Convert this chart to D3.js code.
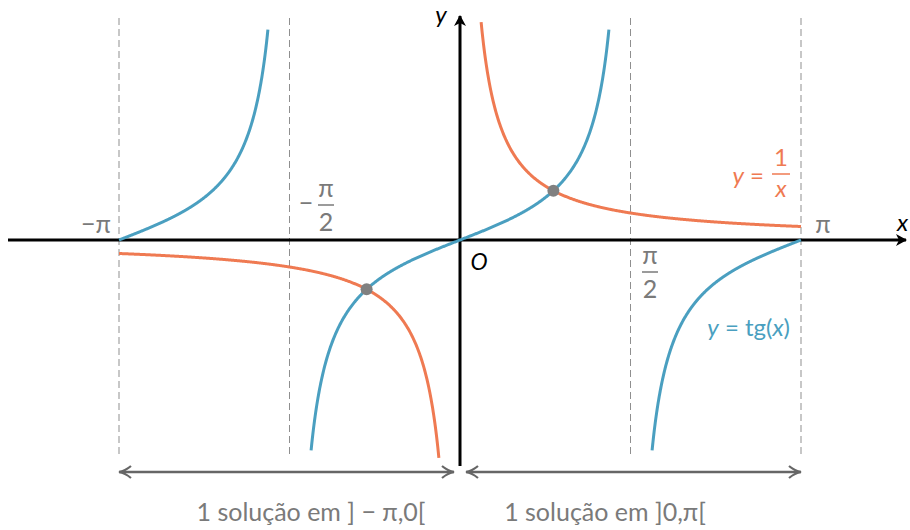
<!DOCTYPE html>
<html><head><meta charset="utf-8">
<script src="https://cdn.jsdelivr.net/npm/d3@7"></script>
<style>body{margin:0;background:#fff}svg{display:block;font-family:Lato,"Open Sans",sans-serif}</style>
</head><body><svg id="c" width="910" height="530"></svg>
<script>
const PI = Math.PI;
// function branches: [start, end] on x, and clip limit on |y|
const tanBranches = [[-PI, -PI/2], [-PI/2, PI/2], [PI/2, PI]];
const tanClip = 5;
const invBranches = [[-PI, -0.001], [0.001, PI]];
const invClip = 5.2;
const intersections = [-0.8603, 0.8603];
const guideX = [-PI, -PI/2, PI/2, PI];
const spanLabels = ["1 solução em ] − π,0[", "1 solução em ]0,π["];
const spans = [[-PI, 0], [0, PI]];

const blue = "#4a9fc0", orange = "#ef7a52", gray = "#7a7a7a";
const svg = d3.select("#c");
const x = d3.scaleLinear().domain([-PI, PI]).range([119, 801]);
const y = d3.scaleLinear().domain([-5, 5]).range([452, 28]);

function samples(f, a, b, clip) {
  const pts = [];
  const n = 600;
  for (let i = 0; i <= n; i++) {
    const t = a + (b - a) * i / n;
    const v = f(t);
    if (Math.abs(v) <= clip) pts.push([t, v]);
  }
  return pts;
}
const line = d3.line().x(d => x(d[0])).y(d => y(d[1]));

// guides
svg.selectAll("line.g").data(guideX).join("line")
  .attr("x1", d => x(d)).attr("x2", d => x(d)).attr("y1", 18).attr("y2", 458)
  .attr("stroke", "#8f8f8f").attr("stroke-width", 1).attr("stroke-dasharray", "7,4");

// defs arrows
const defs = svg.append("defs");
defs.append("marker").attr("id", "ab").attr("viewBox", "0 0 12 12").attr("refX", 10).attr("refY", 6)
  .attr("markerWidth", 12).attr("markerHeight", 12).attr("markerUnits", "userSpaceOnUse").attr("orient", "auto")
  .append("path").attr("d", "M0,0 L11,6 L0,12 L3,6 Z").attr("fill", "#000");
defs.append("marker").attr("id", "ag").attr("viewBox", "0 0 14 14").attr("refX", 13).attr("refY", 7)
  .attr("markerWidth", 14).attr("markerHeight", 14).attr("markerUnits", "userSpaceOnUse").attr("orient", "auto-start-reverse")
  .append("path").attr("d", "M1,1 Q7,6 13,7 Q7,8 1,13").attr("fill", "none").attr("stroke", "#666").attr("stroke-width", 2.2);

// axes
svg.append("line").attr("x1", 8).attr("x2", 906).attr("y1", y(0)).attr("y2", y(0))
  .attr("stroke", "#000").attr("stroke-width", 3).attr("marker-end", "url(#ab)");
svg.append("line").attr("x1", x(0)).attr("x2", x(0)).attr("y1", 466).attr("y2", 16)
  .attr("stroke", "#000").attr("stroke-width", 3).attr("marker-end", "url(#ab)");

// curves
tanBranches.forEach(b => {
  svg.append("path").attr("d", line(samples(Math.tan, b[0], b[1], tanClip)))
    .attr("fill", "none").attr("stroke", blue).attr("stroke-width", 3);
});
invBranches.forEach(b => {
  svg.append("path").attr("d", line(samples(t => 1 / t, b[0], b[1], invClip)))
    .attr("fill", "none").attr("stroke", orange).attr("stroke-width", 3);
});
svg.selectAll("circle.p").data(intersections).join("circle")
  .attr("cx", d => x(d)).attr("cy", d => y(1 / d)).attr("r", 6).attr("fill", "#808080");

// span arrows
spans.forEach((s, i) => {
  const a = x(s[0]) + (i === 1 ? 6 : 0), b = x(s[1]) - (i === 0 ? 6 : 0);
  svg.append("line").attr("x1", a).attr("x2", b).attr("y1", 472).attr("y2", 472)
    .attr("stroke", "#666").attr("stroke-width", 2.5)
    .attr("marker-start", "url(#ag)").attr("marker-end", "url(#ag)");
  svg.append("text").attr("x", i === 0 ? 311 : 605).attr("y", 521)
    .attr("text-anchor", "middle").attr("font-size", 25).attr("fill", gray).text(spanLabels[i]);
});

// tick labels
const tg = svg.append("g").attr("fill", gray).attr("font-size", 25);
tg.append("text").attr("x", 111).attr("y", 233).attr("text-anchor", "end").text("−π");
tg.append("text").attr("x", 823).attr("y", 233).attr("text-anchor", "middle").text("π");
function frac(g, cx, topBase, num, den, color) {
  g.append("text").attr("x", cx).attr("y", topBase).attr("text-anchor", "middle").attr("fill", color).text(num);
  g.append("line").attr("x1", cx - 8).attr("x2", cx + 8).attr("y1", topBase + 8).attr("y2", topBase + 8)
    .attr("stroke", color).attr("stroke-width", 1.5);
  g.append("text").attr("x", cx).attr("y", topBase + 34).attr("text-anchor", "middle").attr("fill", color).text(den);
}
tg.append("text").attr("x", 306).attr("y", 212).attr("text-anchor", "middle").text("−");
frac(tg, 326, 197, "π", "2", gray);
frac(tg, 650, 264, "π", "2", gray);

// axis labels
svg.append("text").attr("x", 441).attr("y", 23).attr("text-anchor", "middle").attr("font-style", "italic").attr("font-size", 24).text("y");
svg.append("text").attr("x", 897).attr("y", 231).attr("font-style", "italic").attr("font-size", 24).text("x");
svg.append("text").attr("x", 479).attr("y", 270).attr("text-anchor", "middle").attr("font-style", "italic").attr("font-size", 23).text("O");

// function labels
const ol = svg.append("g").attr("fill", orange).attr("font-size", 24);
const t1 = ol.append("text").attr("x", 764).attr("y", 184).attr("text-anchor", "end");
t1.append("tspan").attr("font-style", "italic").text("y");
t1.append("tspan").text(" =");
ol.append("text").attr("x", 781).attr("y", 166).attr("text-anchor", "middle").text("1");
ol.append("line").attr("x1", 772).attr("x2", 790).attr("y1", 174).attr("y2", 174).attr("stroke", orange).attr("stroke-width", 1.5);
ol.append("text").attr("x", 781).attr("y", 197).attr("text-anchor", "middle").attr("font-style", "italic").text("x");

const t2 = svg.append("text").attr("x", 790).attr("y", 336).attr("text-anchor", "end").attr("fill", blue).attr("font-size", 24);
t2.append("tspan").attr("font-style", "italic").text("y");
t2.append("tspan").text(" = tg(");
t2.append("tspan").attr("font-style", "italic").text("x");
t2.append("tspan").text(")");
</script></body></html>
